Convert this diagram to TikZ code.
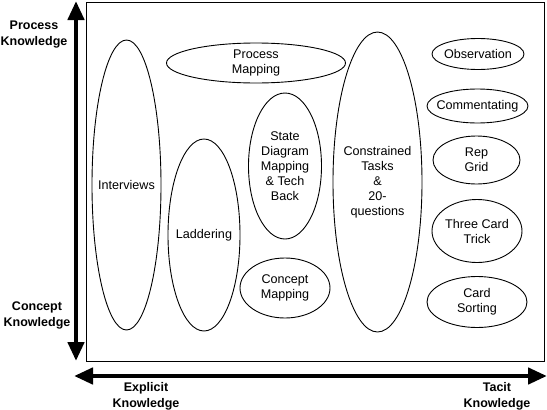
\documentclass[tikz,border=0pt]{standalone}
\usepackage{fontspec}
\setmainfont{Liberation Sans}
\usetikzlibrary{shapes.geometric, arrows.meta}

\begin{document}
\begin{tikzpicture}[x=1pt, y=-1pt, line width=0.9pt,
    method/.style={draw, ellipse, inner sep=0pt},
    methodtext/.style={align=center, inner sep=0pt, font=\fontsize{12.6}{15}\selectfont},
    axislabel/.style={align=center, font=\fontsize{12.5}{16}\selectfont\bfseries},
    axisarrow/.style={line width=4.5pt, {Triangle[length=19pt,width=16pt]}-{Triangle[length=19pt,width=16pt]}}]
    \useasboundingbox (0,0) rectangle (547,410);

    % Frame
    \draw (86,2) rectangle (544,361);

    % Axes
    \coordinate (ptop) at (76,1);
    \coordinate (pbot) at (76,361);
    \coordinate (eleft) at (74,376);
    \coordinate (eright) at (547,376);
    \draw[axisarrow] (pbot) -- (ptop);
    \draw[axisarrow] (eleft) -- (eright);

    % Axis labels
    \node[axislabel] (process) at (34,35) {Process\\Knowledge};
    \node[axislabel] (concept) at (37,315) {Concept\\Knowledge};
    \node[axislabel] (explicit) at (146,396) {Explicit\\Knowledge};
    \node[axislabel] (tacit) at (497,396) {Tacit\\Knowledge};

    % Methods (ellipse first, text at its centre)
    \foreach \x/\y/\w/\h/\name/\txt in {
        126.5/185/69/290/interviews/Interviews,
        204/235/72/192/laddering/Laddering,
        256/63/179/40/procmap/{Process\\Mapping},
        285/166/73/146/statediag/{State\\Diagram\\Mapping\\\& Tech\\Back},
        285/288/90/60/conmap/{Concept\\Mapping},
        377.5/182/89/300/constrained/{Constrained\\Tasks\\\&\\20-\\questions},
        478/54/92/31/observ/Observation,
        477.5/106/101/34/comment/Commentating,
        476.5/160/87/48/repgrid/{Rep\\Grid},
        477/231/90/63/threecard/{Three Card\\Trick},
        477/302/100/51/cardsort/{Card\\Sorting}}
    {
        \node[method, minimum width=\w pt, minimum height=\h pt] (\name) at (\x,\y) {};
        \node[methodtext] (\name-txt) at (\name.center) {\txt};
    }

\end{tikzpicture}
\end{document}
